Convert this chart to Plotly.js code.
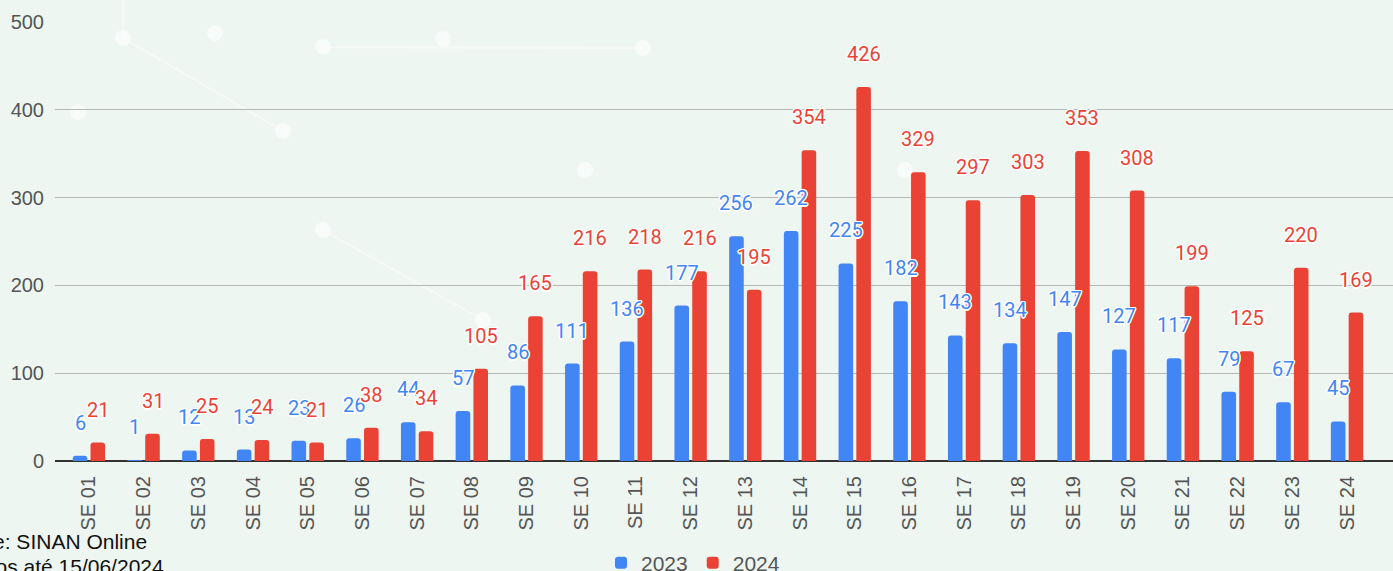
<!DOCTYPE html>
<html>
<head>
<meta charset="utf-8">
<script src="https://cdn.plot.ly/plotly-3.0.1.min.js"></script>
<style>html,body{margin:0;padding:0;background:#eef6f1;}#chart{width:1393px;height:571px;}</style>
</head>
<body>
<div id="chart"></div>
<script>
const categories = ["SE 01","SE 02","SE 03","SE 04","SE 05","SE 06","SE 07","SE 08","SE 09","SE 10","SE 11","SE 12","SE 13","SE 14","SE 15","SE 16","SE 17","SE 18","SE 19","SE 20","SE 21","SE 22","SE 23","SE 24"];
const cases2023 = [6,1,12,13,23,26,44,57,86,111,136,177,256,262,225,182,143,134,147,127,117,79,67,45];
const cases2024 = [21,31,25,24,21,38,34,105,165,216,218,216,195,354,426,329,297,303,353,308,199,125,220,169];
const seriesNames = ["2023","2024"];
const yTicks = [0,100,200,300,400,500];

const blue = "#4285F4", red = "#EA4335";
const W = 1393, H = 571, ml = 55, mr = 0, mt = 22, mb = 110;
const pw = W - ml - mr, ph = H - mt - mb;
const xRange = [-0.62, 23.84];
const catPx = pw / (xRange[1] - xRange[0]);
const bargap = 0.35, bargroupgap = 0.18;
const slot = catPx * (1 - bargap) / 2;

const shadow = "1px 1px 0 #fff, -1px -1px 0 #fff, 1px -1px 0 #fff, -1px 1px 0 #fff, 0 1.5px 0 #fff, 0 -1.5px 0 #fff, 1.5px 0 0 #fff, -1.5px 0 0 #fff";
const annotations = [];
[[cases2023, blue, -slot/2], [cases2024, red, slot/2]].forEach(([vals, col, dx]) => {
  vals.forEach((v, i) => {
    annotations.push({x: categories[i], y: v, xref: "x", yref: "y", text: String(v), showarrow: false,
      xshift: dx, yshift: 33, yanchor: "middle", xanchor: "center",
      font: {family: "Roboto, Arial, sans-serif", size: 20, color: col, shadow: shadow}});
  });
});
// source note (partially cut at left, as in reference)
function px(x){return (x - ml)/pw;} function py(y){return 1 - (y - mt)/ph;}
annotations.push({xref: "paper", yref: "paper", x: px(149), y: py(541), xanchor: "right", yanchor: "middle",
  text: "Fonte: SINAN Online", showarrow: false, font: {family: "Liberation Sans, Arial, sans-serif", size: 21, color: "#111"}});
annotations.push({xref: "paper", yref: "paper", x: px(166), y: py(566), xanchor: "right", yanchor: "middle",
  text: "Dados até 15/06/2024", showarrow: false, font: {family: "Liberation Sans, Arial, sans-serif", size: 21, color: "#111"}});

// faint decorative network pattern in background
const nodes = [[123,38],[215,33],[323,47],[443,39],[643,48],[78,112],[283,131],[585,170],[323,230],[905,170],[483,320]];
const links = [[0,6],[8,10],[2,4]];
const shapes = [];
links.forEach(([a,b]) => shapes.push({type:"line", xref:"paper", yref:"paper", layer:"below",
  x0: px(nodes[a][0]), y0: py(nodes[a][1]), x1: px(nodes[b][0]), y1: py(nodes[b][1]),
  line:{color:"rgba(255,255,255,0.35)", width:2.5}}));
shapes.push({type:"line", xref:"paper", yref:"paper", layer:"below", x0:px(123), y0:py(0), x1:px(123), y1:py(38), line:{color:"rgba(255,255,255,0.35)", width:2.5}});
nodes.forEach(([x,y]) => shapes.push({type:"circle", xref:"paper", yref:"paper", layer:"below",
  x0: px(x-8), x1: px(x+8), y0: py(y+8), y1: py(y-8), fillcolor:"rgba(255,255,255,0.55)", line:{width:0}}));

const traces = [
  {type:"bar", name: seriesNames[0], x: categories, y: cases2023, marker:{color: blue}, hoverinfo:"x+y"},
  {type:"bar", name: seriesNames[1], x: categories, y: cases2024, marker:{color: red}, hoverinfo:"x+y"}
];

const layout = {
  width: W, height: H,
  margin: {l: ml, r: mr, t: mt, b: mb, pad: 0, autoexpand: false},
  paper_bgcolor: "#eef6f1", plot_bgcolor: "rgba(0,0,0,0)",
  barmode: "group", bargap: bargap, bargroupgap: bargroupgap, barcornerradius: 3,
  font: {family: "Liberation Sans, Arial, sans-serif", size: 20, color: "#555"},
  xaxis: {type: "category", range: xRange, tickangle: -90, showgrid: false, zeroline: false, automargin: false,
    ticks: "", tickfont: {size: 20, color: "#555"}, ticklabelstandoff: 10, fixedrange: true},
  yaxis: {range: [0, 500], tickvals: yTicks, ticktext: yTicks.map(String), showgrid: true, gridcolor: "#b5b8b6", gridwidth: 1,
    zeroline: true, zerolinecolor: "#333", zerolinewidth: 1.5, tickfont: {size: 20, color: "#555"}, ticklabelstandoff: 10, fixedrange: true, automargin: false},
  legend: {orientation: "h", x: px(693), xanchor: "center", y: py(563), yanchor: "middle",
    font: {size: 21, color: "#555"}, itemwidth: 30, traceorder: "normal"},
  showlegend: true,
  annotations: annotations,
  shapes: shapes
};
Plotly.newPlot("chart", traces, layout, {displayModeBar: false, staticPlot: true});
</script>
</body>
</html>
